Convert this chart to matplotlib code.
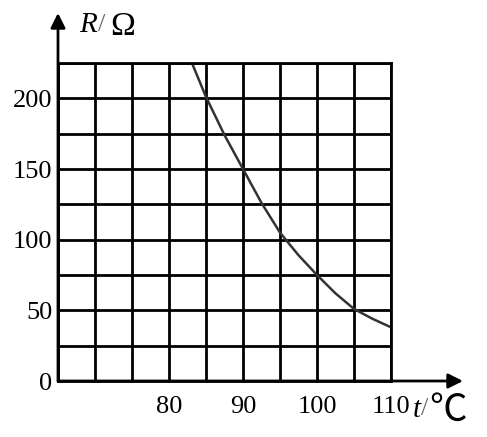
import matplotlib
matplotlib.use("Agg")
import matplotlib.pyplot as plt

# data
t_vals = [83.1, 85, 87.5, 90, 92.5, 95, 97.5, 100, 102.5, 105, 107.5, 110]
r_vals = [225, 201, 174, 150, 126, 105, 89, 75, 62, 51, 44, 38]
x_grid = [65, 70, 75, 80, 85, 90, 95, 100, 105, 110]
y_grid = [0, 25, 50, 75, 100, 125, 150, 175, 200, 225]
x_labels = ["", "", "", "80", "", "90", "", "100", "", "110"]
y_labels = ["0", "", "50", "", "100", "", "150", "", "200", ""]

W, H = 487, 437
serif = "Liberation Serif"

fig = plt.figure(figsize=(W / 100, H / 100), dpi=100)
ax = fig.add_axes([58 / W, (H - 381) / H, (391 - 58) / W, (381 - 63) / H])

ax.set_xlim(65, 110)
ax.set_ylim(0, 225)
ax.set_xticks(x_grid)
ax.set_xticklabels(x_labels, fontsize=19, family=serif)
ax.set_yticks(y_grid)
ax.set_yticklabels(y_labels, fontsize=19, family=serif)
# 110 sits a bit left of its grid line in the reference
ax.get_xticklabels()[-1].set_x(109.2)
ax.tick_params(axis="both", length=0)
ax.tick_params(axis="x", pad=11)
ax.tick_params(axis="y", pad=4)
ax.grid(True, color="black", lw=2)
for s in ax.spines.values():
    s.set_linewidth(2)

ax.plot(t_vals, r_vals, color="#333333", lw=1.8, solid_capstyle="butt")

# axis arrows
def fpx(x, y):
    return (x, H - y)

ax.annotate("", xy=fpx(58, 13), xytext=fpx(58, 381), xycoords="figure pixels",
            textcoords="figure pixels",
            arrowprops=dict(arrowstyle="-|>", mutation_scale=22, lw=2, color="black",
                            shrinkA=0, shrinkB=0))
ax.annotate("", xy=fpx(463, 381), xytext=fpx(58, 381), xycoords="figure pixels",
            textcoords="figure pixels",
            arrowprops=dict(arrowstyle="-|>", mutation_scale=22, lw=2, color="black",
                            shrinkA=0, shrinkB=0))

# axis titles
def ftext(x, y, s, **kw):
    fig.text(x / W, 1 - y / H, s, va="center", ha="left", **kw)

ftext(79, 25, "R", fontsize=21, family=serif, style="italic")
ftext(98, 25, "/", fontsize=19, family=serif, color="#666666")
ftext(110, 27, "Ω", fontsize=24, family=serif)

ftext(413, 410, "t", fontsize=21, family=serif, style="italic")
ftext(421, 409, "/", fontsize=19, family=serif, color="#666666")
ftext(429, 410, "℃", fontsize=27, fontweight="light",
      family=["Noto Sans CJK SC", "DejaVu Sans"])

fig.savefig("out.png", dpi=100)
